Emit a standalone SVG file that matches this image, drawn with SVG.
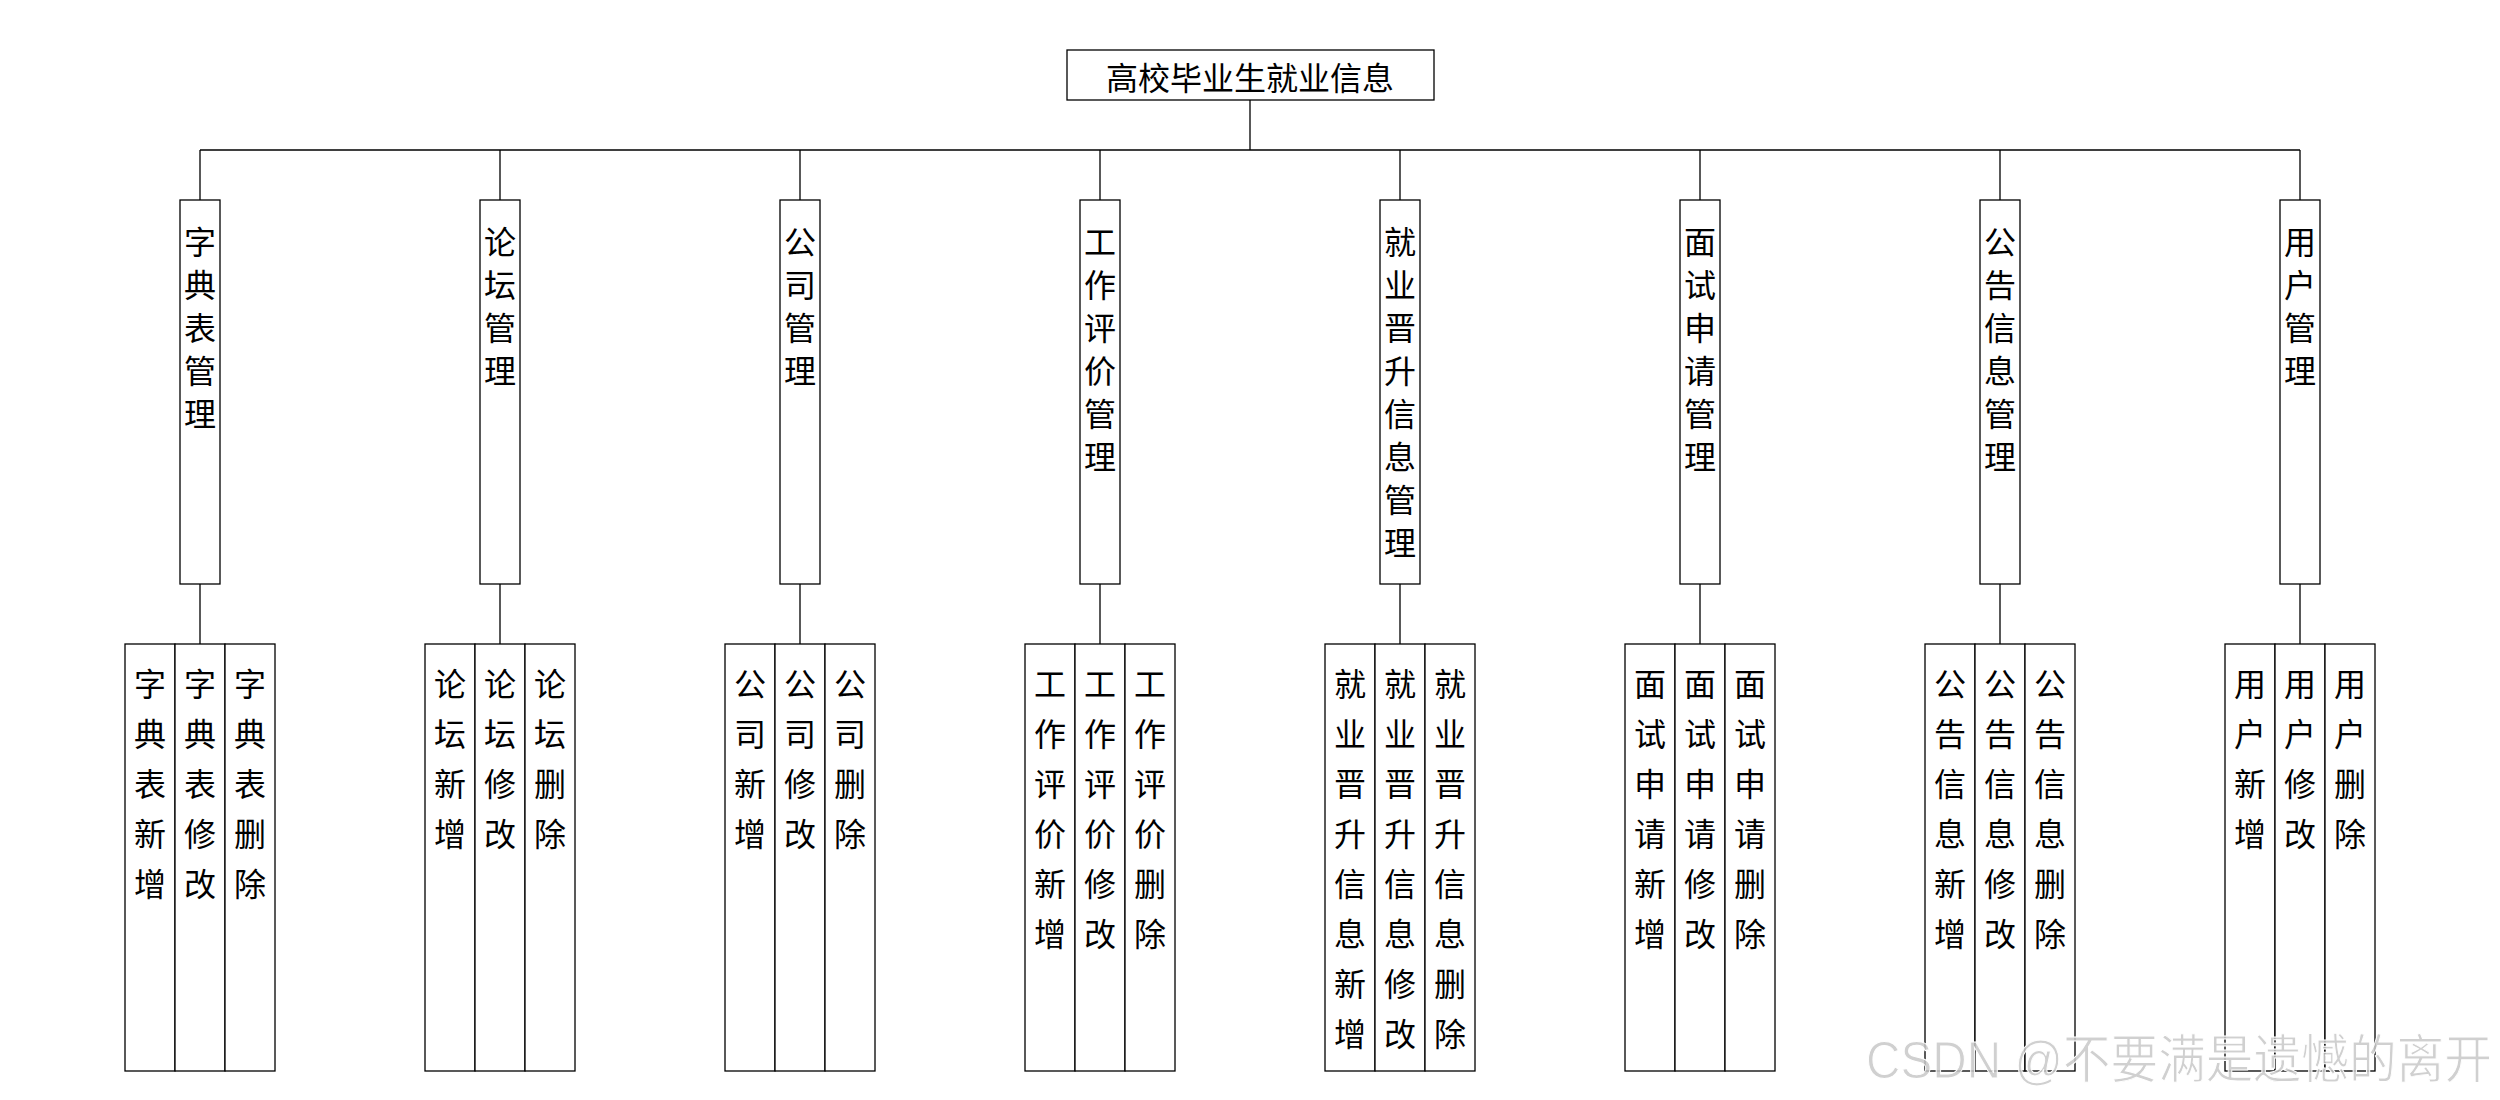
<svg xmlns="http://www.w3.org/2000/svg" width="2500" height="1100" viewBox="0 0 2500 1100">
<style>
.box{fill:#fff;stroke:#000;stroke-width:1.3}
.ln{stroke:#000;stroke-width:1.3;fill:none}
.t{font-family:"Noto Sans CJK SC","Liberation Sans",sans-serif;font-size:32px;text-anchor:middle;dominant-baseline:central;fill:#000}
.wm{font-family:"Liberation Sans","Noto Sans CJK SC",sans-serif;font-size:52px;fill:#c8c8c8;fill-opacity:0.85;stroke:#fff;stroke-width:1}
</style>
<rect width="2500" height="1100" fill="#fff"/>
<g id="connectors">
<path class="ln" d="M1250 100V150M200 150H2300"/>
<path class="ln" d="M200 150V200M200 584V644"/>
<path class="ln" d="M500 150V200M500 584V644"/>
<path class="ln" d="M800 150V200M800 584V644"/>
<path class="ln" d="M1100 150V200M1100 584V644"/>
<path class="ln" d="M1400 150V200M1400 584V644"/>
<path class="ln" d="M1700 150V200M1700 584V644"/>
<path class="ln" d="M2000 150V200M2000 584V644"/>
<path class="ln" d="M2300 150V200M2300 584V644"/>
</g>
<g id="root"><rect class="box" x="1067" y="50" width="367" height="50"/><text class="t" x="1250" y="76">高校毕业生就业信息</text></g>

<g id="n1"><rect class="box" x="180" y="200" width="40" height="384"/><text class="t"><tspan x="200" y="240">字</tspan><tspan x="200" dy="43">典</tspan><tspan x="200" dy="43">表</tspan><tspan x="200" dy="43">管</tspan><tspan x="200" dy="43">理</tspan></text></g>
<g id="n1a"><rect class="box" x="125" y="644" width="50" height="427"/><text class="t"><tspan x="150" y="682">字</tspan><tspan x="150" dy="50">典</tspan><tspan x="150" dy="50">表</tspan><tspan x="150" dy="50">新</tspan><tspan x="150" dy="50">增</tspan></text></g>
<g id="n1b"><rect class="box" x="175" y="644" width="50" height="427"/><text class="t"><tspan x="200" y="682">字</tspan><tspan x="200" dy="50">典</tspan><tspan x="200" dy="50">表</tspan><tspan x="200" dy="50">修</tspan><tspan x="200" dy="50">改</tspan></text></g>
<g id="n1c"><rect class="box" x="225" y="644" width="50" height="427"/><text class="t"><tspan x="250" y="682">字</tspan><tspan x="250" dy="50">典</tspan><tspan x="250" dy="50">表</tspan><tspan x="250" dy="50">删</tspan><tspan x="250" dy="50">除</tspan></text></g>

<g id="n2"><rect class="box" x="480" y="200" width="40" height="384"/><text class="t"><tspan x="500" y="240">论</tspan><tspan x="500" dy="43">坛</tspan><tspan x="500" dy="43">管</tspan><tspan x="500" dy="43">理</tspan></text></g>
<g id="n2a"><rect class="box" x="425" y="644" width="50" height="427"/><text class="t"><tspan x="450" y="682">论</tspan><tspan x="450" dy="50">坛</tspan><tspan x="450" dy="50">新</tspan><tspan x="450" dy="50">增</tspan></text></g>
<g id="n2b"><rect class="box" x="475" y="644" width="50" height="427"/><text class="t"><tspan x="500" y="682">论</tspan><tspan x="500" dy="50">坛</tspan><tspan x="500" dy="50">修</tspan><tspan x="500" dy="50">改</tspan></text></g>
<g id="n2c"><rect class="box" x="525" y="644" width="50" height="427"/><text class="t"><tspan x="550" y="682">论</tspan><tspan x="550" dy="50">坛</tspan><tspan x="550" dy="50">删</tspan><tspan x="550" dy="50">除</tspan></text></g>

<g id="n3"><rect class="box" x="780" y="200" width="40" height="384"/><text class="t"><tspan x="800" y="240">公</tspan><tspan x="800" dy="43">司</tspan><tspan x="800" dy="43">管</tspan><tspan x="800" dy="43">理</tspan></text></g>
<g id="n3a"><rect class="box" x="725" y="644" width="50" height="427"/><text class="t"><tspan x="750" y="682">公</tspan><tspan x="750" dy="50">司</tspan><tspan x="750" dy="50">新</tspan><tspan x="750" dy="50">增</tspan></text></g>
<g id="n3b"><rect class="box" x="775" y="644" width="50" height="427"/><text class="t"><tspan x="800" y="682">公</tspan><tspan x="800" dy="50">司</tspan><tspan x="800" dy="50">修</tspan><tspan x="800" dy="50">改</tspan></text></g>
<g id="n3c"><rect class="box" x="825" y="644" width="50" height="427"/><text class="t"><tspan x="850" y="682">公</tspan><tspan x="850" dy="50">司</tspan><tspan x="850" dy="50">删</tspan><tspan x="850" dy="50">除</tspan></text></g>

<g id="n4"><rect class="box" x="1080" y="200" width="40" height="384"/><text class="t"><tspan x="1100" y="240">工</tspan><tspan x="1100" dy="43">作</tspan><tspan x="1100" dy="43">评</tspan><tspan x="1100" dy="43">价</tspan><tspan x="1100" dy="43">管</tspan><tspan x="1100" dy="43">理</tspan></text></g>
<g id="n4a"><rect class="box" x="1025" y="644" width="50" height="427"/><text class="t"><tspan x="1050" y="682">工</tspan><tspan x="1050" dy="50">作</tspan><tspan x="1050" dy="50">评</tspan><tspan x="1050" dy="50">价</tspan><tspan x="1050" dy="50">新</tspan><tspan x="1050" dy="50">增</tspan></text></g>
<g id="n4b"><rect class="box" x="1075" y="644" width="50" height="427"/><text class="t"><tspan x="1100" y="682">工</tspan><tspan x="1100" dy="50">作</tspan><tspan x="1100" dy="50">评</tspan><tspan x="1100" dy="50">价</tspan><tspan x="1100" dy="50">修</tspan><tspan x="1100" dy="50">改</tspan></text></g>
<g id="n4c"><rect class="box" x="1125" y="644" width="50" height="427"/><text class="t"><tspan x="1150" y="682">工</tspan><tspan x="1150" dy="50">作</tspan><tspan x="1150" dy="50">评</tspan><tspan x="1150" dy="50">价</tspan><tspan x="1150" dy="50">删</tspan><tspan x="1150" dy="50">除</tspan></text></g>

<g id="n5"><rect class="box" x="1380" y="200" width="40" height="384"/><text class="t"><tspan x="1400" y="240">就</tspan><tspan x="1400" dy="43">业</tspan><tspan x="1400" dy="43">晋</tspan><tspan x="1400" dy="43">升</tspan><tspan x="1400" dy="43">信</tspan><tspan x="1400" dy="43">息</tspan><tspan x="1400" dy="43">管</tspan><tspan x="1400" dy="43">理</tspan></text></g>
<g id="n5a"><rect class="box" x="1325" y="644" width="50" height="427"/><text class="t"><tspan x="1350" y="682">就</tspan><tspan x="1350" dy="50">业</tspan><tspan x="1350" dy="50">晋</tspan><tspan x="1350" dy="50">升</tspan><tspan x="1350" dy="50">信</tspan><tspan x="1350" dy="50">息</tspan><tspan x="1350" dy="50">新</tspan><tspan x="1350" dy="50">增</tspan></text></g>
<g id="n5b"><rect class="box" x="1375" y="644" width="50" height="427"/><text class="t"><tspan x="1400" y="682">就</tspan><tspan x="1400" dy="50">业</tspan><tspan x="1400" dy="50">晋</tspan><tspan x="1400" dy="50">升</tspan><tspan x="1400" dy="50">信</tspan><tspan x="1400" dy="50">息</tspan><tspan x="1400" dy="50">修</tspan><tspan x="1400" dy="50">改</tspan></text></g>
<g id="n5c"><rect class="box" x="1425" y="644" width="50" height="427"/><text class="t"><tspan x="1450" y="682">就</tspan><tspan x="1450" dy="50">业</tspan><tspan x="1450" dy="50">晋</tspan><tspan x="1450" dy="50">升</tspan><tspan x="1450" dy="50">信</tspan><tspan x="1450" dy="50">息</tspan><tspan x="1450" dy="50">删</tspan><tspan x="1450" dy="50">除</tspan></text></g>

<g id="n6"><rect class="box" x="1680" y="200" width="40" height="384"/><text class="t"><tspan x="1700" y="240">面</tspan><tspan x="1700" dy="43">试</tspan><tspan x="1700" dy="43">申</tspan><tspan x="1700" dy="43">请</tspan><tspan x="1700" dy="43">管</tspan><tspan x="1700" dy="43">理</tspan></text></g>
<g id="n6a"><rect class="box" x="1625" y="644" width="50" height="427"/><text class="t"><tspan x="1650" y="682">面</tspan><tspan x="1650" dy="50">试</tspan><tspan x="1650" dy="50">申</tspan><tspan x="1650" dy="50">请</tspan><tspan x="1650" dy="50">新</tspan><tspan x="1650" dy="50">增</tspan></text></g>
<g id="n6b"><rect class="box" x="1675" y="644" width="50" height="427"/><text class="t"><tspan x="1700" y="682">面</tspan><tspan x="1700" dy="50">试</tspan><tspan x="1700" dy="50">申</tspan><tspan x="1700" dy="50">请</tspan><tspan x="1700" dy="50">修</tspan><tspan x="1700" dy="50">改</tspan></text></g>
<g id="n6c"><rect class="box" x="1725" y="644" width="50" height="427"/><text class="t"><tspan x="1750" y="682">面</tspan><tspan x="1750" dy="50">试</tspan><tspan x="1750" dy="50">申</tspan><tspan x="1750" dy="50">请</tspan><tspan x="1750" dy="50">删</tspan><tspan x="1750" dy="50">除</tspan></text></g>

<g id="n7"><rect class="box" x="1980" y="200" width="40" height="384"/><text class="t"><tspan x="2000" y="240">公</tspan><tspan x="2000" dy="43">告</tspan><tspan x="2000" dy="43">信</tspan><tspan x="2000" dy="43">息</tspan><tspan x="2000" dy="43">管</tspan><tspan x="2000" dy="43">理</tspan></text></g>
<g id="n7a"><rect class="box" x="1925" y="644" width="50" height="427"/><text class="t"><tspan x="1950" y="682">公</tspan><tspan x="1950" dy="50">告</tspan><tspan x="1950" dy="50">信</tspan><tspan x="1950" dy="50">息</tspan><tspan x="1950" dy="50">新</tspan><tspan x="1950" dy="50">增</tspan></text></g>
<g id="n7b"><rect class="box" x="1975" y="644" width="50" height="427"/><text class="t"><tspan x="2000" y="682">公</tspan><tspan x="2000" dy="50">告</tspan><tspan x="2000" dy="50">信</tspan><tspan x="2000" dy="50">息</tspan><tspan x="2000" dy="50">修</tspan><tspan x="2000" dy="50">改</tspan></text></g>
<g id="n7c"><rect class="box" x="2025" y="644" width="50" height="427"/><text class="t"><tspan x="2050" y="682">公</tspan><tspan x="2050" dy="50">告</tspan><tspan x="2050" dy="50">信</tspan><tspan x="2050" dy="50">息</tspan><tspan x="2050" dy="50">删</tspan><tspan x="2050" dy="50">除</tspan></text></g>

<g id="n8"><rect class="box" x="2280" y="200" width="40" height="384"/><text class="t"><tspan x="2300" y="240">用</tspan><tspan x="2300" dy="43">户</tspan><tspan x="2300" dy="43">管</tspan><tspan x="2300" dy="43">理</tspan></text></g>
<g id="n8a"><rect class="box" x="2225" y="644" width="50" height="427"/><text class="t"><tspan x="2250" y="682">用</tspan><tspan x="2250" dy="50">户</tspan><tspan x="2250" dy="50">新</tspan><tspan x="2250" dy="50">增</tspan></text></g>
<g id="n8b"><rect class="box" x="2275" y="644" width="50" height="427"/><text class="t"><tspan x="2300" y="682">用</tspan><tspan x="2300" dy="50">户</tspan><tspan x="2300" dy="50">修</tspan><tspan x="2300" dy="50">改</tspan></text></g>
<g id="n8c"><rect class="box" x="2325" y="644" width="50" height="427"/><text class="t"><tspan x="2350" y="682">用</tspan><tspan x="2350" dy="50">户</tspan><tspan x="2350" dy="50">删</tspan><tspan x="2350" dy="50">除</tspan></text></g>

<text class="wm" x="1866" y="1078" textLength="626" lengthAdjust="spacingAndGlyphs">CSDN @不要满是遗憾的离开</text>
</svg>
